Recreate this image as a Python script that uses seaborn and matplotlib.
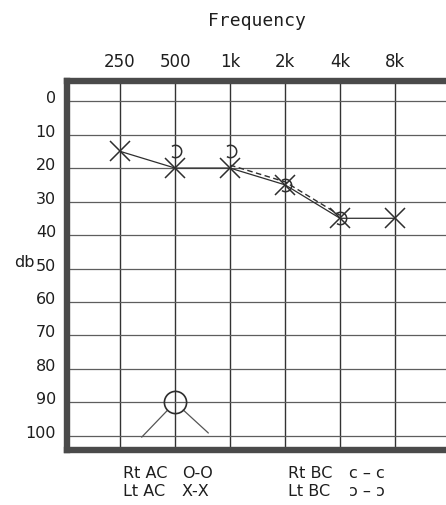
import numpy as np
import pandas as pd
import matplotlib
matplotlib.use("Agg")
import matplotlib.pyplot as plt
import matplotlib.transforms as mtransforms
from matplotlib.path import Path
import seaborn as sns

# ---------------- data ----------------
freq_labels = ["250", "500", "1k", "2k", "4k", "8k"]
db_ticks = [0, 10, 20, 30, 40, 50, 60, 70, 80, 90, 100]

# Left ear, air conduction (X)
lt_ac_freq = ["250", "500", "1k", "2k", "4k", "8k"]
lt_ac_db = [15, 20, 20, 25, 35, 35]

# Left ear, bone conduction (ɔ) markers
lt_bc_freq = ["500", "1k", "2k", "4k"]
lt_bc_db = [15, 15, 25, 35]

# Left ear, bone conduction connecting dashed line
lt_bc_line_freq = ["1k", "2k", "4k"]
lt_bc_line_db = [20, 25, 35]

# Right ear, air conduction (O) - no response
rt_ac_freq = ["500"]
rt_ac_db = [90]

legend_left = ["Rt AC", "Lt AC"]
legend_left_sym = ["O\u2011O", "X\u2011X"]
legend_right = ["Rt BC", "Lt BC"]
legend_right_sym = ["c \u2013 c", "\u0254 \u2013 \u0254"]


def pos(fs):
    return [freq_labels.index(f) for f in fs]


df_ac = pd.DataFrame({"x": pos(lt_ac_freq), "db": lt_ac_db})
df_bc = pd.DataFrame({"x": pos(lt_bc_freq), "db": lt_bc_db})
df_bcl = pd.DataFrame({"x": pos(lt_bc_line_freq), "db": lt_bc_line_db})
df_rt = pd.DataFrame({"x": pos(rt_ac_freq), "db": rt_ac_db})

# ---------------- style ----------------
sns.set_style("white")
plt.rcParams["font.family"] = ["DejaVu Sans"]

W, H = 446, 505
fig = plt.figure(figsize=(W / 100, H / 100), dpi=100)
fig.patch.set_facecolor("white")

ax_left, ax_top, ax_bottom = 66.5, 81, 450
ax = fig.add_axes([ax_left / W, (H - ax_bottom) / H,
                   (W - ax_left) / W, (ax_bottom - ax_top) / H])

ink = "#2e2e2e"
txt = "#1e1e1e"

# data: left AC
sns.lineplot(data=df_ac, x="x", y="db", ax=ax, color=ink, linewidth=0.9,
             marker="x", markersize=15, markeredgewidth=1.1,
             markeredgecolor=ink, zorder=4)

# data: left BC dashed line (drawn a touch above the AC line)
off_up = mtransforms.ScaledTranslation(0, 3 / 100, fig.dpi_scale_trans)
sns.lineplot(data=df_bcl, x="x", y="db", ax=ax, color=ink, linewidth=1.0,
             dashes=False, linestyle=(0, (4, 2.5)), zorder=3,
             transform=ax.transData + off_up)

# data: left BC markers (ɔ)
arc = Path.arc(-125, 125)
sns.lineplot(data=df_bc, x="x", y="db", ax=ax, linestyle="none",
             marker=arc, markersize=9, markerfacecolor="none",
             markeredgecolor=ink, markeredgewidth=1.1, zorder=5)

# data: right AC (O)
sns.lineplot(data=df_rt, x="x", y="db", ax=ax, linestyle="none",
             marker="o", markersize=16, markerfacecolor="none",
             markeredgecolor=ink, markeredgewidth=1.2, zorder=5)
# "no response" legs below the circle
for x0, y0 in zip(df_rt["x"], df_rt["db"]):
    for dxy in [(-24, -25), (24, -22)]:
        ax.annotate("", xy=(x0, y0), xycoords="data", xytext=dxy,
                    textcoords="offset points",
                    arrowprops=dict(arrowstyle="-", color="#555555", lw=0.9,
                                    shrinkA=0, shrinkB=8))

# ---------------- axes ----------------
ax.set_xlim(-0.973, 5.927)
ax.set_ylim(104.2, -6.0)
ax.set_xticks(range(len(freq_labels)))
ax.set_xticklabels(freq_labels)
ax.set_yticks(db_ticks)
ax.set_yticklabels([str(v) for v in db_ticks])
ax.xaxis.tick_top()
ax.tick_params(axis="x", length=0, pad=7, labelsize=12, labelcolor=txt)
ax.tick_params(axis="y", length=0, pad=7.5, labelsize=11.5, labelcolor=txt)
ax.set_xlabel("")
ax.set_ylabel("")

ax.grid(axis="x", color="#333333", linewidth=1.0)
ax.grid(axis="y", color="#5e5e5e", linewidth=0.9)
ax.set_axisbelow(True)

for s in ["top", "left", "bottom"]:
    ax.spines[s].set_visible(True)
    ax.spines[s].set_linewidth(4.6)
    ax.spines[s].set_color("#4a4a4a")
ax.spines["right"].set_visible(False)

lab_off = mtransforms.ScaledTranslation(0, 4 / 100, fig.dpi_scale_trans)
for lab in ax.get_yticklabels():
    lab.set_transform(lab.get_transform() + lab_off)

# y label "db"
ax.text(-0.083, 0.507, "db", transform=ax.transAxes, ha="right", va="center",
        fontsize=11.5, color=txt)

# title
fig.text(257 / W, 1 - 26 / H, "Frequency", ha="center", va="baseline",
         fontsize=13, family="DejaVu Sans Mono", color=txt)

# legend text
for i, (a, b) in enumerate(zip(legend_left, legend_left_sym)):
    y = 1 - (478 + 18 * i) / H
    fig.text(123 / W, y, a, ha="left", va="baseline", fontsize=11.5, color=txt)
    fig.text(182 / W, y, b, ha="left", va="baseline", fontsize=11.5, color=txt)
for i, (a, b) in enumerate(zip(legend_right, legend_right_sym)):
    y = 1 - (478 + 18 * i) / H
    fig.text(288 / W, y, a, ha="left", va="baseline", fontsize=11.5, color=txt)
    fig.text(349 / W, y, b, ha="left", va="baseline", fontsize=11.5, color=txt)

fig.savefig("out.png", dpi=100, facecolor="white")
